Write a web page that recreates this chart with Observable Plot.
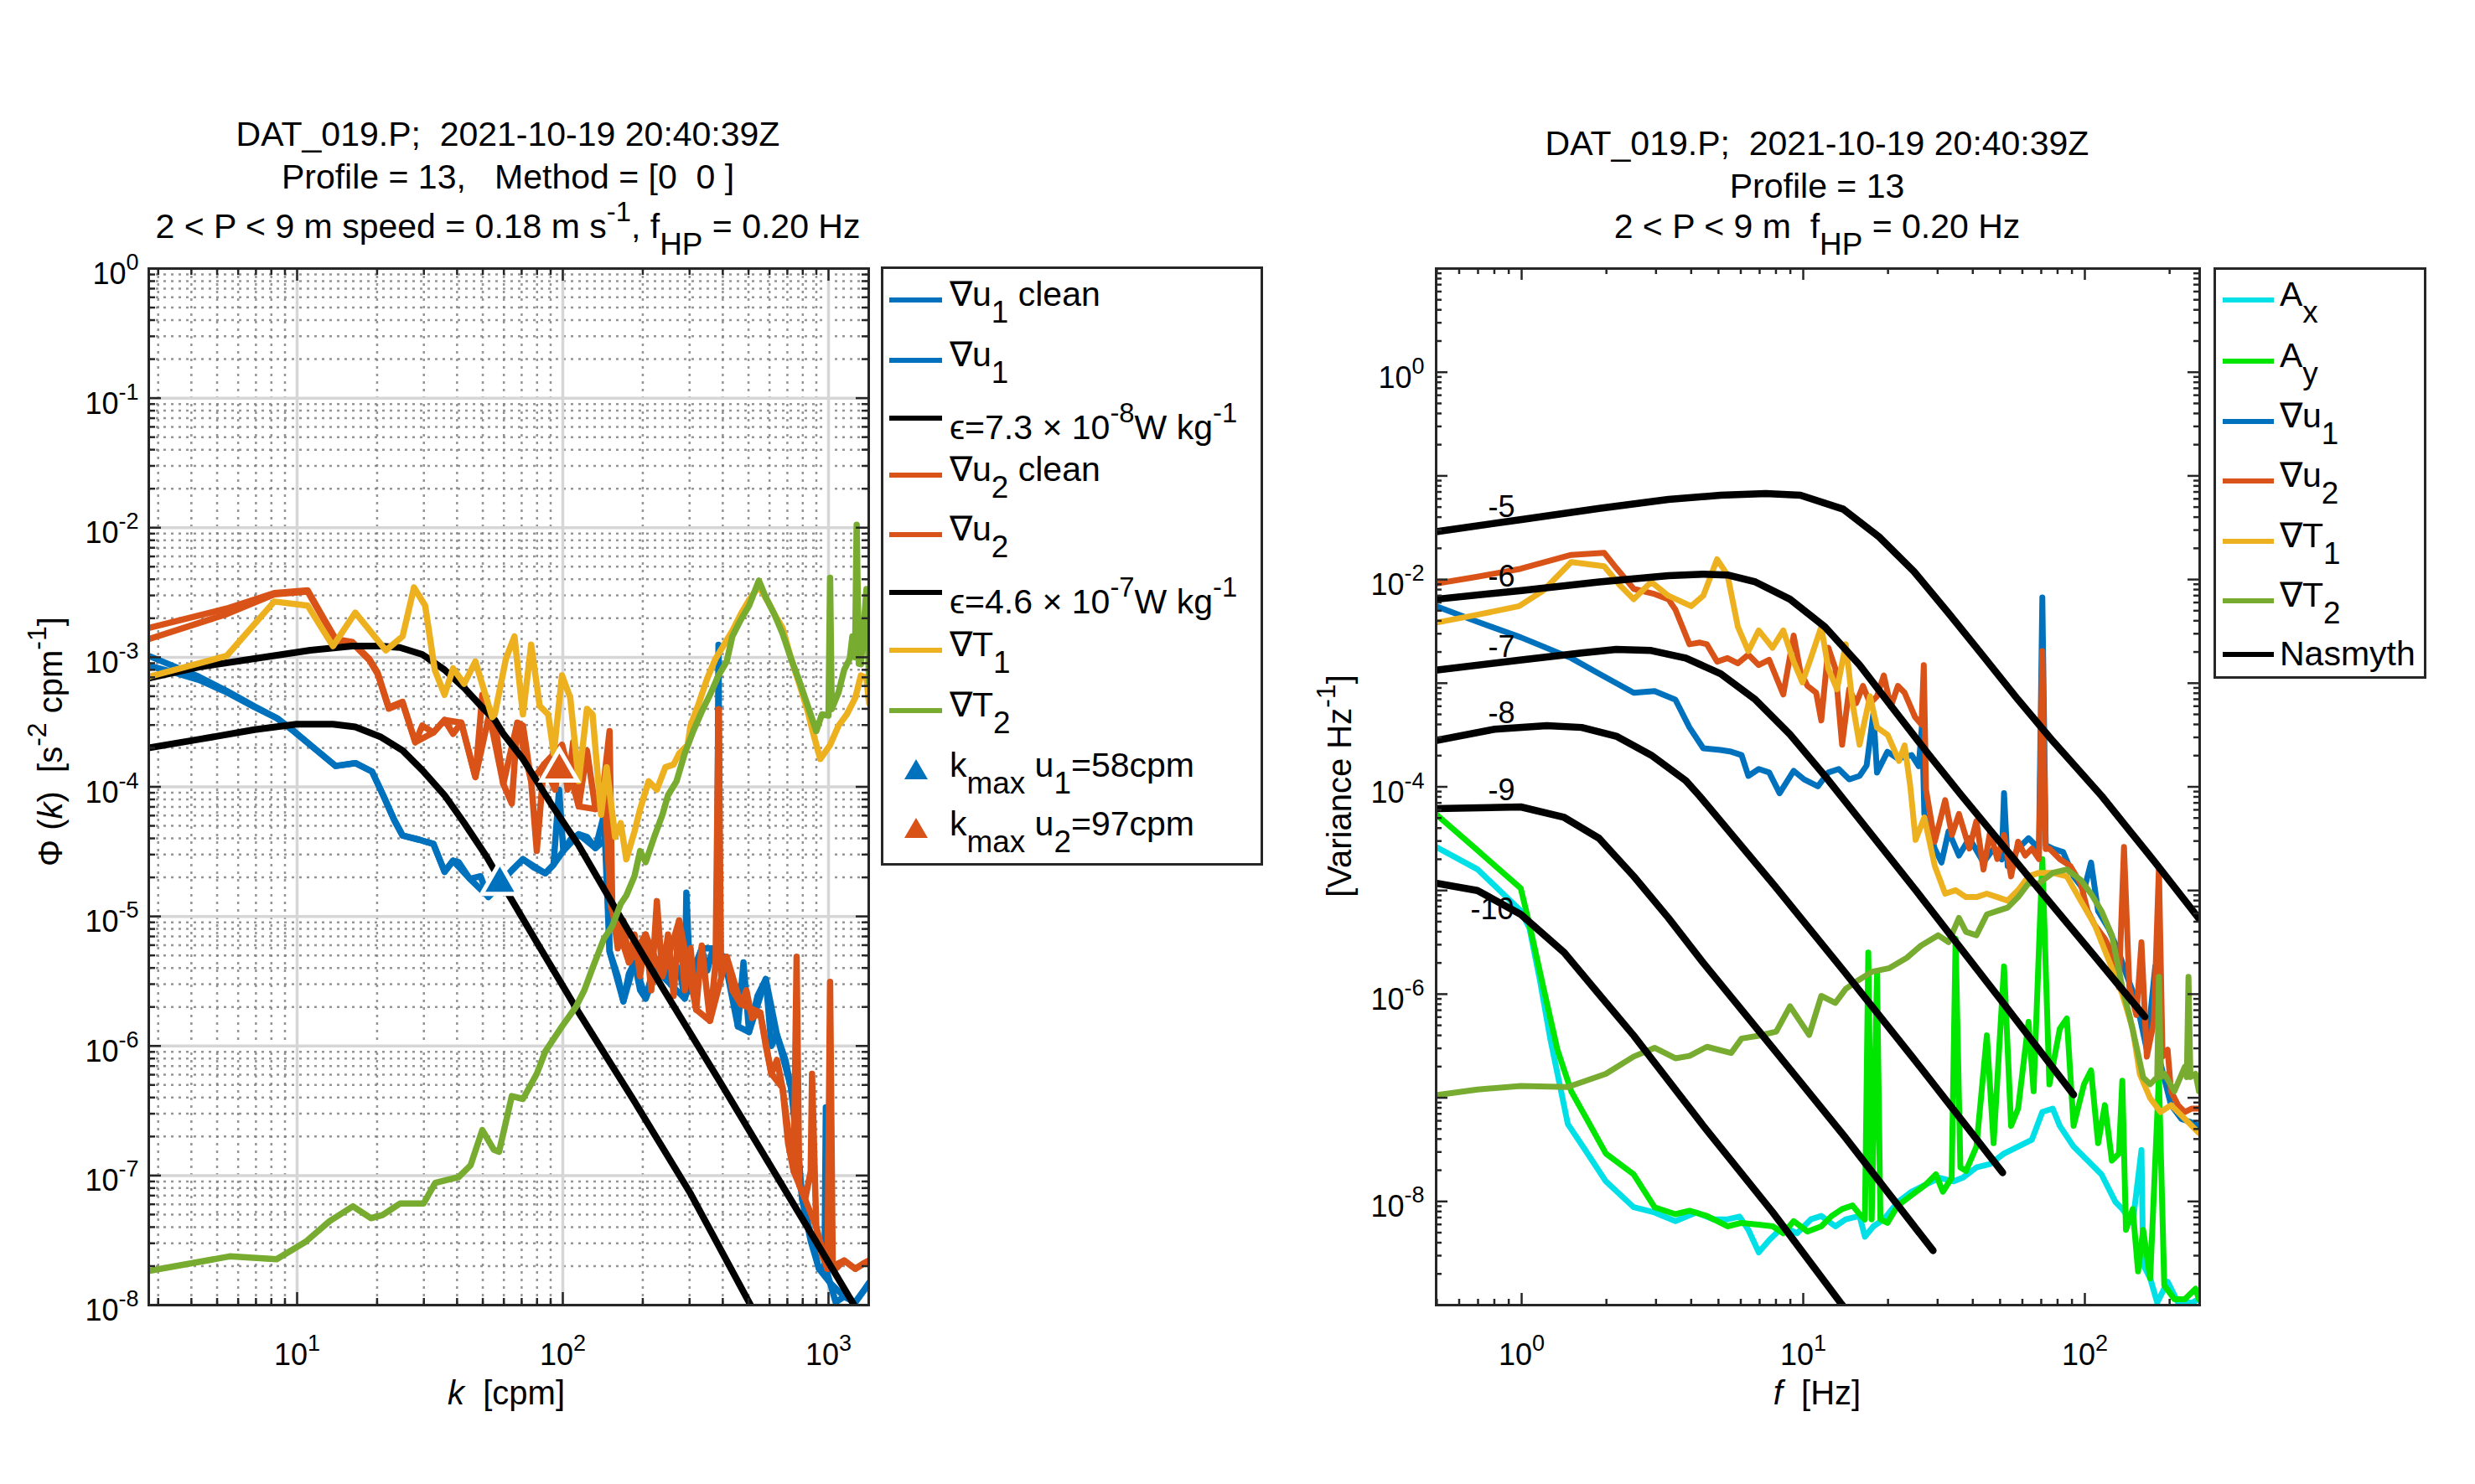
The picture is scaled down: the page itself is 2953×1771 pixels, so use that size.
<!DOCTYPE html>
<html><head><meta charset="utf-8">
<script src="https://cdn.jsdelivr.net/npm/d3@7"></script>
<script src="https://cdn.jsdelivr.net/npm/@observablehq/plot@0.6"></script>
<style>
body{margin:0;background:#fff;}
#fig{position:relative;width:2953px;height:1771px;background:#fff;font-family:"Liberation Sans",Arial,Helvetica,sans-serif;color:#000;overflow:hidden}
.t{position:absolute;white-space:pre;line-height:1;transform:translate(-50%,-50%)}
.title{font-size:41px}
.alab{font-size:40px}
.rot{transform:translate(-50%,-50%) rotate(-90deg)}
sub{font-size:0.9em;vertical-align:-0.55em;line-height:0}
sup{font-size:0.8em;vertical-align:0.6em;line-height:0}
.legend{position:absolute;border:3px solid #262626;background:#fff;box-sizing:border-box}
.lt{position:absolute;white-space:pre;line-height:1;font-size:41px;transform:translateY(-50%)}
.ls{position:absolute;height:6px}
</style></head>
<body><div id="fig"></div>
<script>
// ---------------- DATA (log10 pairs: [log10 x, log10 y]) ----------------
// Left panel: wavenumber spectra, k [cpm] vs Phi(k)
const L_u1 = [[0.441,-2.989],[0.525,-3.060],[0.630,-3.150],[0.735,-3.260],[0.840,-3.380],[0.924,-3.470],[0.987,-3.570],[1.050,-3.677],[1.145,-3.839],[1.219,-3.817],[1.282,-3.882],[1.324,-4.065],[1.366,-4.258],[1.397,-4.376],[1.461,-4.409],[1.513,-4.441],[1.555,-4.656],[1.587,-4.570],[1.608,-4.581],[1.650,-4.710],[1.690,-4.690],[1.720,-4.850],[1.744,-4.800],[1.763,-4.745],[1.808,-4.645],[1.850,-4.559],[1.892,-4.624],[1.934,-4.667],[1.965,-4.602],[1.986,-4.022],[2.002,-4.495],[2.028,-4.409],[2.060,-4.366],[2.091,-4.387],[2.123,-4.473],[2.155,-4.215],[2.176,-5.269],[2.207,-5.462],[2.228,-5.656],[2.249,-5.441],[2.270,-5.355],[2.291,-5.570],[2.312,-5.634],[2.333,-5.462],[2.354,-5.419],[2.386,-5.355],[2.407,-5.527],[2.438,-5.398],[2.459,-5.634],[2.465,-4.817],[2.481,-5.570],[2.502,-5.355],[2.523,-5.247],[2.544,-5.419],[2.565,-5.247],[2.580,-5.350],[2.586,-2.903],[2.592,-5.376],[2.607,-5.312],[2.638,-5.462],[2.659,-5.849],[2.680,-5.355],[2.701,-5.892],[2.733,-5.613],[2.764,-5.484],[2.785,-6.000],[2.806,-5.914],[2.838,-6.108],[2.859,-6.323],[2.880,-6.645],[2.901,-7.183],[2.933,-7.505],[2.964,-7.720],[2.985,-7.700],[2.990,-6.473],[2.995,-7.750],[3.006,-7.828],[3.027,-7.978],[3.059,-7.935],[3.101,-7.978],[3.132,-7.892],[3.153,-7.828]];
const L_u1clean = [[0.441,-3.065],[0.525,-3.110],[0.630,-3.175],[0.735,-3.270],[0.840,-3.385],[0.924,-3.470],[0.987,-3.570],[1.050,-3.677],[1.145,-3.839],[1.219,-3.817],[1.282,-3.882],[1.324,-4.065],[1.366,-4.258],[1.397,-4.376],[1.461,-4.409],[1.513,-4.441],[1.555,-4.656],[1.587,-4.570],[1.650,-4.710],[1.720,-4.850],[1.763,-4.745],[1.808,-4.645],[1.850,-4.559],[1.934,-4.667],[1.965,-4.602],[2.002,-4.495],[2.060,-4.366],[2.123,-4.473],[2.165,-4.400],[2.176,-5.269],[2.228,-5.656],[2.270,-5.355],[2.312,-5.634],[2.354,-5.419],[2.407,-5.527],[2.459,-5.634],[2.523,-5.247],[2.565,-5.247],[2.607,-5.312],[2.659,-5.849],[2.701,-5.892],[2.764,-5.484],[2.806,-5.914],[2.859,-6.323],[2.901,-7.183],[2.964,-7.720],[3.006,-7.828],[3.059,-7.935],[3.101,-7.978],[3.153,-7.828]];
const L_u2 = [[0.441,-2.774],[0.735,-2.624],[0.914,-2.505],[1.040,-2.484],[1.103,-2.710],[1.145,-2.860],[1.208,-2.882],[1.271,-3.011],[1.303,-3.118],[1.345,-3.387],[1.397,-3.344],[1.445,-3.656],[1.471,-3.527],[1.513,-3.581],[1.555,-3.484],[1.587,-3.591],[1.618,-3.505],[1.671,-3.925],[1.697,-3.290],[1.723,-3.441],[1.744,-3.484],[1.776,-3.978],[1.808,-4.129],[1.829,-3.505],[1.850,-3.527],[1.881,-3.957],[1.902,-4.495],[1.929,-3.828],[1.971,-4.022],[1.997,-3.677],[2.018,-4.022],[2.039,-3.656],[2.060,-4.151],[2.091,-3.720],[2.123,-4.172],[2.155,-3.957],[2.176,-3.570],[2.186,-4.925],[2.207,-5.247],[2.228,-5.032],[2.249,-5.355],[2.270,-5.140],[2.291,-5.462],[2.312,-5.140],[2.333,-5.570],[2.354,-4.882],[2.375,-5.462],[2.396,-5.140],[2.417,-5.613],[2.438,-5.032],[2.459,-5.570],[2.481,-5.247],[2.502,-5.720],[2.523,-5.226],[2.554,-5.806],[2.575,-5.355],[2.586,-3.400],[2.596,-5.462],[2.617,-5.312],[2.638,-5.570],[2.670,-5.677],[2.691,-5.570],[2.712,-5.785],[2.743,-5.742],[2.764,-6.000],[2.785,-6.215],[2.806,-6.108],[2.827,-6.323],[2.848,-6.753],[2.869,-6.968],[2.880,-5.312],[2.890,-7.075],[2.912,-7.183],[2.933,-6.968],[2.938,-6.215],[2.954,-7.398],[2.975,-7.613],[2.996,-7.720],[3.006,-5.505],[3.016,-7.720],[3.027,-7.720],[3.059,-7.656],[3.101,-7.720],[3.132,-7.677],[3.153,-7.656]];
const L_u2clean = [[0.441,-2.860],[0.735,-2.667],[0.914,-2.515],[1.040,-2.494],[1.103,-2.720],[1.145,-2.870],[1.208,-2.892],[1.271,-3.021],[1.303,-3.128],[1.345,-3.397],[1.397,-3.354],[1.445,-3.656],[1.513,-3.581],[1.555,-3.484],[1.618,-3.505],[1.671,-3.925],[1.723,-3.441],[1.776,-3.978],[1.829,-3.505],[1.881,-3.957],[1.929,-3.828],[1.997,-3.677],[2.060,-4.151],[2.123,-4.172],[2.155,-3.957],[2.181,-4.925],[2.249,-5.355],[2.312,-5.140],[2.375,-5.462],[2.438,-5.032],[2.502,-5.720],[2.554,-5.806],[2.617,-5.312],[2.670,-5.677],[2.743,-5.742],[2.785,-6.215],[2.827,-6.323],[2.869,-6.968],[2.912,-7.183],[2.954,-7.398],[2.996,-7.720],[3.059,-7.656],[3.101,-7.720],[3.153,-7.656]];
const L_T1 = [[0.441,-3.151],[0.735,-2.989],[0.914,-2.570],[1.040,-2.602],[1.135,-2.914],[1.219,-2.656],[1.334,-2.946],[1.397,-2.839],[1.440,-2.462],[1.482,-2.602],[1.518,-3.097],[1.555,-3.290],[1.587,-3.086],[1.629,-3.204],[1.671,-3.032],[1.734,-3.462],[1.744,-3.441],[1.786,-3.011],[1.818,-2.839],[1.850,-3.441],[1.881,-2.903],[1.913,-3.376],[1.945,-3.441],[1.966,-3.742],[1.997,-3.140],[2.028,-3.312],[2.060,-3.957],[2.091,-3.398],[2.112,-3.441],[2.144,-4.215],[2.165,-3.849],[2.197,-4.387],[2.218,-4.280],[2.239,-4.559],[2.270,-4.344],[2.291,-4.172],[2.323,-3.957],[2.354,-4.022],[2.386,-3.849],[2.417,-3.828],[2.438,-3.742],[2.470,-3.677],[2.481,-3.527],[2.512,-3.355],[2.544,-3.161],[2.575,-3.011],[2.607,-2.903],[2.638,-2.796],[2.670,-2.667],[2.701,-2.559],[2.738,-2.452],[2.775,-2.581],[2.796,-2.667],[2.827,-2.774],[2.859,-3.011],[2.890,-3.204],[2.922,-3.419],[2.943,-3.591],[2.969,-3.785],[3.006,-3.677],[3.038,-3.527],[3.069,-3.441],[3.101,-3.312],[3.122,-3.140],[3.143,-3.161],[3.153,-3.355]];
const L_T2 = [[0.440,-7.737],[0.746,-7.624],[0.923,-7.646],[1.033,-7.510],[1.122,-7.352],[1.210,-7.238],[1.277,-7.329],[1.321,-7.306],[1.387,-7.216],[1.476,-7.216],[1.520,-7.057],[1.608,-7.012],[1.653,-6.921],[1.697,-6.649],[1.740,-6.800],[1.760,-6.817],[1.808,-6.387],[1.850,-6.409],[1.902,-6.215],[1.934,-6.043],[1.997,-5.849],[2.049,-5.699],[2.081,-5.570],[2.112,-5.398],[2.155,-5.172],[2.186,-5.075],[2.218,-4.903],[2.239,-4.839],[2.270,-4.688],[2.291,-4.495],[2.312,-4.581],[2.344,-4.387],[2.375,-4.215],[2.396,-4.065],[2.428,-3.957],[2.459,-3.742],[2.491,-3.570],[2.523,-3.419],[2.554,-3.290],[2.586,-3.140],[2.617,-3.032],[2.638,-2.839],[2.670,-2.710],[2.701,-2.602],[2.738,-2.409],[2.764,-2.538],[2.796,-2.667],[2.827,-2.817],[2.859,-3.011],[2.890,-3.183],[2.922,-3.376],[2.954,-3.570],[2.975,-3.441],[3.000,-3.450],[3.006,-2.387],[3.012,-3.400],[3.038,-3.269],[3.059,-3.097],[3.080,-3.011],[3.090,-2.839],[3.100,-3.000],[3.106,-1.978],[3.114,-3.050],[3.122,-3.054],[3.143,-2.473],[3.153,-3.204]];
const L_nas1 = [[0.441,-3.699],[0.630,-3.634],[0.840,-3.559],[0.998,-3.516],[1.135,-3.516],[1.219,-3.538],[1.313,-3.613],[1.397,-3.720],[1.471,-3.871],[1.555,-4.065],[1.629,-4.280],[1.713,-4.538],[1.787,-4.800],[1.902,-5.200],[2.060,-5.742],[2.270,-6.430],[2.481,-7.140],[2.701,-7.978],[2.720,-8.050]];
const L_nas2 = [[0.441,-3.161],[0.630,-3.075],[0.840,-3.011],[1.050,-2.946],[1.208,-2.914],[1.313,-2.914],[1.387,-2.925],[1.471,-2.978],[1.555,-3.097],[1.629,-3.237],[1.702,-3.398],[1.744,-3.484],[1.776,-3.591],[1.850,-3.785],[1.955,-4.129],[2.060,-4.452],[2.218,-5.011],[2.375,-5.550],[2.586,-6.258],[2.796,-6.974],[3.006,-7.690],[3.090,-7.978],[3.110,-8.050]];
const L_kmax = [[1.763,-4.745],[1.987,-3.871]]; // u1 = 58 cpm, u2 = 97 cpm

// Right panel: frequency spectra, f [Hz] vs variance
const R_Ax = [[-0.305,-4.578],[-0.157,-4.795],[-0.003,-5.197],[0.028,-5.364],[0.065,-5.866],[0.102,-6.434],[0.164,-7.253],[0.226,-7.505],[0.299,-7.806],[0.398,-8.056],[0.472,-8.106],[0.546,-8.190],[0.620,-8.106],[0.682,-8.173],[0.731,-8.173],[0.774,-8.146],[0.805,-8.273],[0.842,-8.491],[0.879,-8.374],[0.929,-8.240],[0.978,-8.307],[1.027,-8.173],[1.064,-8.140],[1.114,-8.240],[1.151,-8.173],[1.200,-8.140],[1.219,-8.340],[1.249,-8.240],[1.286,-8.173],[1.336,-8.006],[1.385,-7.906],[1.434,-7.839],[1.484,-7.772],[1.534,-7.806],[1.566,-7.772],[1.615,-7.672],[1.664,-7.638],[1.713,-7.538],[1.763,-7.471],[1.812,-7.404],[1.849,-7.137],[1.886,-7.104],[1.911,-7.271],[1.960,-7.471],[2.010,-7.605],[2.059,-7.739],[2.109,-8.006],[2.133,-8.073],[2.170,-8.207],[2.201,-7.505],[2.207,-8.608],[2.232,-8.742],[2.257,-8.976],[2.294,-8.775],[2.331,-8.976],[2.380,-8.976],[2.405,-8.943]];
const R_Ay = [[-0.305,-4.261],[-0.157,-4.612],[-0.003,-4.980],[0.028,-5.331],[0.077,-5.933],[0.127,-6.535],[0.176,-6.936],[0.238,-7.237],[0.299,-7.538],[0.398,-7.739],[0.472,-8.056],[0.546,-8.123],[0.596,-8.090],[0.658,-8.140],[0.731,-8.240],[0.781,-8.207],[0.842,-8.224],[0.892,-8.240],[0.929,-8.307],[0.966,-8.190],[1.015,-8.290],[1.064,-8.240],[1.101,-8.140],[1.138,-8.073],[1.175,-8.039],[1.200,-8.123],[1.219,-8.173],[1.231,-5.599],[1.243,-8.173],[1.262,-5.800],[1.274,-8.173],[1.299,-8.207],[1.336,-8.039],[1.385,-7.939],[1.434,-7.839],[1.471,-7.738],[1.496,-7.906],[1.527,-7.772],[1.541,-5.466],[1.558,-7.672],[1.578,-7.705],[1.615,-7.471],[1.652,-6.398],[1.676,-7.438],[1.713,-5.733],[1.738,-7.271],[1.763,-7.104],[1.800,-6.268],[1.818,-6.937],[1.849,-4.697],[1.874,-6.870],[1.911,-6.335],[1.936,-6.235],[1.960,-7.271],[1.997,-6.870],[2.022,-6.736],[2.047,-7.438],[2.071,-7.071],[2.096,-7.605],[2.121,-7.538],[2.133,-6.836],[2.146,-8.274],[2.170,-8.073],[2.189,-8.675],[2.207,-8.274],[2.232,-8.742],[2.263,-6.800],[2.282,-8.809],[2.318,-8.943],[2.355,-8.943],[2.393,-8.842],[2.405,-8.943]];
const R_u1 = [[-0.305,-2.257],[-0.157,-2.407],[-0.003,-2.558],[0.176,-2.758],[0.275,-2.909],[0.398,-3.093],[0.472,-3.076],[0.546,-3.159],[0.596,-3.427],[0.645,-3.628],[0.706,-3.644],[0.744,-3.661],[0.781,-3.694],[0.805,-3.895],[0.842,-3.828],[0.879,-3.862],[0.916,-4.062],[0.966,-3.845],[1.003,-3.928],[1.052,-3.995],[1.089,-3.862],[1.126,-3.828],[1.163,-3.928],[1.200,-3.895],[1.225,-3.795],[1.249,-3.293],[1.262,-3.862],[1.299,-3.661],[1.336,-3.728],[1.385,-3.694],[1.410,-3.800],[1.422,-3.393],[1.430,-4.262],[1.467,-4.596],[1.491,-4.730],[1.516,-4.429],[1.553,-4.663],[1.590,-4.496],[1.640,-4.730],[1.676,-4.596],[1.705,-4.700],[1.713,-4.061],[1.726,-4.764],[1.763,-4.596],[1.800,-4.496],[1.837,-4.596],[1.849,-2.173],[1.861,-4.563],[1.886,-4.596],[1.923,-4.630],[1.960,-4.864],[1.997,-4.997],[2.022,-4.730],[2.047,-5.198],[2.084,-5.365],[2.121,-5.600],[2.146,-5.800],[2.183,-6.068],[2.220,-6.536],[2.250,-5.733],[2.269,-6.670],[2.306,-7.071],[2.343,-7.204],[2.380,-7.238],[2.405,-7.271]];
const R_u2 = [[-0.305,-2.039],[-0.157,-1.973],[-0.003,-1.896],[0.176,-1.762],[0.293,-1.742],[0.336,-1.889],[0.398,-2.090],[0.472,-2.140],[0.521,-2.190],[0.546,-2.290],[0.596,-2.625],[0.633,-2.608],[0.658,-2.625],[0.694,-2.792],[0.731,-2.758],[0.768,-2.808],[0.805,-2.725],[0.842,-2.825],[0.879,-2.775],[0.929,-3.109],[0.966,-2.541],[0.990,-2.892],[1.015,-3.026],[1.046,-3.093],[1.064,-3.360],[1.089,-2.658],[1.114,-2.859],[1.138,-3.594],[1.163,-3.059],[1.188,-3.193],[1.212,-3.026],[1.237,-3.193],[1.262,-3.126],[1.286,-2.925],[1.311,-3.226],[1.336,-3.026],[1.360,-3.093],[1.397,-3.327],[1.420,-3.400],[1.428,-2.825],[1.436,-4.027],[1.467,-4.529],[1.504,-4.128],[1.528,-4.463],[1.553,-4.262],[1.590,-4.596],[1.615,-4.329],[1.640,-4.798],[1.664,-4.429],[1.689,-4.697],[1.713,-4.463],[1.738,-4.864],[1.763,-4.529],[1.788,-4.663],[1.812,-4.596],[1.837,-4.697],[1.849,-2.691],[1.861,-4.600],[1.874,-4.596],[1.911,-4.697],[1.948,-4.763],[1.985,-4.931],[2.010,-5.198],[2.035,-5.332],[2.071,-5.466],[2.096,-5.600],[2.121,-5.934],[2.139,-4.580],[2.158,-5.934],[2.183,-6.202],[2.201,-5.500],[2.220,-6.603],[2.245,-6.268],[2.263,-4.780],[2.276,-6.603],[2.294,-6.536],[2.306,-6.937],[2.331,-7.071],[2.355,-7.138],[2.380,-7.104],[2.405,-7.104]];
const R_T1 = [[-0.305,-2.417],[-0.157,-2.340],[-0.009,-2.257],[0.077,-2.106],[0.176,-1.832],[0.293,-1.872],[0.349,-2.056],[0.398,-2.190],[0.460,-2.023],[0.521,-2.156],[0.602,-2.257],[0.645,-2.156],[0.694,-1.805],[0.731,-1.956],[0.768,-2.457],[0.805,-2.691],[0.842,-2.491],[0.891,-2.658],[0.929,-2.491],[0.966,-2.792],[0.997,-2.992],[1.027,-2.758],[1.064,-2.457],[1.089,-2.859],[1.120,-3.059],[1.151,-2.625],[1.175,-3.193],[1.200,-3.594],[1.237,-3.126],[1.262,-3.427],[1.300,-3.500],[1.340,-3.750],[1.360,-3.600],[1.380,-3.994],[1.399,-4.512],[1.430,-4.295],[1.467,-4.763],[1.504,-5.031],[1.541,-4.997],[1.578,-5.064],[1.615,-5.064],[1.652,-5.031],[1.689,-5.064],[1.726,-5.098],[1.763,-4.997],[1.800,-4.864],[1.837,-4.830],[1.886,-4.830],[1.936,-4.864],[1.985,-5.098],[2.035,-5.332],[2.084,-5.666],[2.133,-6.001],[2.170,-6.335],[2.195,-6.769],[2.232,-7.004],[2.269,-7.137],[2.306,-7.071],[2.355,-7.204],[2.405,-7.338]];
const R_T2 = [[-0.305,-6.976],[-0.157,-6.920],[-0.003,-6.886],[0.164,-6.896],[0.299,-6.769],[0.398,-6.602],[0.472,-6.518],[0.546,-6.619],[0.596,-6.596],[0.658,-6.508],[0.744,-6.568],[0.781,-6.428],[0.842,-6.401],[0.904,-6.361],[0.953,-6.117],[1.021,-6.394],[1.064,-6.017],[1.114,-6.084],[1.151,-5.950],[1.195,-5.867],[1.245,-5.783],[1.306,-5.749],[1.368,-5.649],[1.418,-5.532],[1.479,-5.432],[1.516,-5.499],[1.553,-5.265],[1.578,-5.399],[1.615,-5.432],[1.652,-5.231],[1.689,-5.198],[1.726,-5.165],[1.763,-5.064],[1.800,-4.931],[1.837,-4.931],[1.886,-4.830],[1.936,-4.797],[1.985,-4.897],[2.022,-5.031],[2.059,-5.198],[2.096,-5.432],[2.133,-5.934],[2.158,-6.202],[2.183,-6.502],[2.207,-6.803],[2.232,-6.869],[2.257,-6.800],[2.263,-5.834],[2.270,-6.800],[2.282,-6.769],[2.318,-6.936],[2.355,-6.702],[2.362,-6.800],[2.368,-5.834],[2.375,-6.800],[2.393,-6.769],[2.405,-6.936]];
// Nasmyth reference spectra, log10(epsilon) = -5 ... -10
const R_n5 = [[-0.303,-1.538],[0,-1.421],[0.275,-1.314],[0.521,-1.227],[0.706,-1.187],[0.867,-1.170],[0.990,-1.187],[1.142,-1.321],[1.269,-1.588],[1.393,-1.922],[1.516,-2.324],[1.640,-2.742],[1.763,-3.160],[1.887,-3.561],[2.060,-4.089],[2.250,-4.730],[2.408,-5.280]];
const R_n6 = [[-0.303,-2.190],[0,-2.106],[0.275,-2.023],[0.521,-1.963],[0.645,-1.949],[0.731,-1.956],[0.830,-2.023],[0.953,-2.190],[1.077,-2.457],[1.200,-2.825],[1.323,-3.260],[1.447,-3.694],[1.558,-4.070],[1.810,-4.900],[2.000,-5.520],[2.213,-6.218]];
const R_n7 = [[-0.305,-2.875],[0,-2.775],[0.213,-2.708],[0.336,-2.675],[0.460,-2.685],[0.583,-2.758],[0.707,-2.909],[0.830,-3.159],[0.953,-3.494],[1.077,-3.895],[1.146,-4.130],[1.400,-5.000],[1.700,-6.050],[1.960,-6.970]];
const R_n8 = [[-0.305,-3.554],[-0.096,-3.444],[0.089,-3.410],[0.213,-3.427],[0.336,-3.511],[0.460,-3.694],[0.583,-3.940],[0.632,-4.089],[0.900,-4.960],[1.146,-5.783],[1.400,-6.650],[1.708,-7.722]];
const R_n9 = [[-0.305,-4.211],[-0.003,-4.194],[0.151,-4.295],[0.274,-4.495],[0.398,-4.863],[0.521,-5.264],[0.645,-5.699],[0.892,-6.520],[1.146,-7.371],[1.461,-8.474]];
const R_n10 = [[-0.305,-4.930],[-0.157,-5.000],[-0.003,-5.231],[0.151,-5.599],[0.274,-5.999],[0.398,-6.400],[0.645,-7.270],[0.892,-8.106],[1.132,-8.976],[1.212,-9.250]];

// tick values
const L_xLabels = [10, 100, 1000];
const L_yLabels = [1, 1e-1, 1e-2, 1e-3, 1e-4, 1e-5, 1e-6, 1e-7, 1e-8];
const R_xLabels = [1, 10, 100];
const R_yLabels = [1, 1e-2, 1e-4, 1e-6, 1e-8];

// ---------------- helpers ----------------
const FONT = '"Liberation Sans", Arial, Helvetica, sans-serif';
const C = {blue:"#0072BD", red:"#D95319", yellow:"#EDB120", green:"#77AC30", cyan:"#00E0E6", lime:"#00E600", black:"#000000", axis:"#262626"};
const P = arr => arr.map(([a, b]) => ({x: 10 ** a, y: 10 ** b}));
const pow = v => `10^{${Math.round(Math.log10(v))}}`;
function logTicks(lo, hi) {
  const major = [], minor = [];
  for (let e = Math.floor(Math.log10(lo)); e <= Math.ceil(Math.log10(hi)); e++) {
    for (let m = 1; m < 10; m++) {
      const v = m * Math.pow(10, e);
      if (v < lo * 0.9999 || v > hi * 1.0001) continue;
      (m === 1 ? major : minor).push(v);
    }
  }
  return {major, minor};
}
function frameTicks(xt, yt, iw, ih, maj = 14, mn = 7) {
  const o = {stroke: C.axis, strokeWidth: 2.5};
  return [
    Plot.ruleX(xt.major, {...o, insetTop: ih - maj}),
    Plot.ruleX(xt.major, {...o, insetBottom: ih - maj}),
    Plot.ruleX(xt.minor, {...o, insetTop: ih - mn}),
    Plot.ruleX(xt.minor, {...o, insetBottom: ih - mn}),
    Plot.ruleY(yt.major, {...o, insetRight: iw - maj}),
    Plot.ruleY(yt.major, {...o, insetLeft: iw - maj}),
    Plot.ruleY(yt.minor, {...o, insetRight: iw - mn}),
    Plot.ruleY(yt.minor, {...o, insetLeft: iw - mn})
  ];
}
function texify(svg) {
  const ns = "http://www.w3.org/2000/svg";
  svg.querySelectorAll("text").forEach(t => {
    const s = t.textContent;
    const m = s.match(/^(.*)\^\{(.*)\}$/);
    if (!m) return;
    t.textContent = "";
    const a = document.createElementNS(ns, "tspan"); a.textContent = m[1];
    const b = document.createElementNS(ns, "tspan"); b.textContent = m[2];
    b.setAttribute("dy", "-17"); b.setAttribute("font-size", "27");
    t.append(a, b);
  });
}
function atLog(pairs, lx) {
  for (let i = 1; i < pairs.length; i++) {
    const [a0, b0] = pairs[i - 1], [a1, b1] = pairs[i];
    if (lx >= a0 && lx <= a1) return b0 + (b1 - b0) * (lx - a0) / (a1 - a0);
  }
  return pairs[0][1];
}
const H = 1771, TOP = 320, BOT = 1557;
const svgStyle = {background: "none", overflow: "visible", maxWidth: "none", fontFamily: FONT, fontSize: "36px", color: "#000"};
const fig = document.getElementById("fig");

// ---------------- LEFT PANEL ----------------
{
  const W = 1045, X0 = 177, X1 = 1036;
  const xd = [2.765, 1417], yd = [1e-8, 1];
  const xt = logTicks(xd[0], xd[1]), yt = logTicks(yd[0], yd[1]);
  const iw = X1 - X0, ih = BOT - TOP;
  const line = (d, stroke, w = 7.5) => Plot.line(P(d), {x: "x", y: "y", stroke, strokeWidth: w, clip: true, strokeLinejoin: "round"});
  const km = P(L_kmax);
  const svg = Plot.plot({
    width: W, height: H, marginLeft: X0, marginRight: W - X1, marginTop: TOP, marginBottom: H - BOT,
    style: svgStyle,
    x: {type: "log", domain: xd},
    y: {type: "log", domain: yd},
    marks: [
      Plot.ruleX(xt.minor, {stroke: "#7a7a7a", strokeOpacity: 0.8, strokeWidth: 2.5, strokeDasharray: "3,6"}),
      Plot.ruleY(yt.minor, {stroke: "#7a7a7a", strokeOpacity: 0.8, strokeWidth: 2.5, strokeDasharray: "3,6"}),
      Plot.ruleX(xt.major, {stroke: "#d6d6d6", strokeWidth: 3.5}),
      Plot.ruleY(yt.major, {stroke: "#d6d6d6", strokeWidth: 3.5}),
      line(L_u1clean, C.blue),
      line(L_u1, C.blue),
      line(L_nas1, C.black, 8),
      line(L_u2clean, C.red),
      line(L_u2, C.red),
      line(L_nas2, C.black, 8),
      line(L_T1, C.yellow),
      line(L_T2, C.green),
      Plot.dot([km[0]], {x: "x", y: "y", symbol: "triangle", r: 16, fill: C.blue, stroke: "white", strokeWidth: 5}),
      Plot.dot([km[1]], {x: "x", y: "y", symbol: "triangle", r: 16, fill: C.red, stroke: "white", strokeWidth: 5}),
      ...frameTicks(xt, yt, iw, ih, 15, 8),
      Plot.frame({stroke: C.axis, strokeWidth: 3}),
      Plot.axisX({ticks: L_xLabels, tickSize: 0, tickPadding: 46, tickFormat: pow, label: null, anchor: "bottom"}),
      Plot.axisY({ticks: L_yLabels, tickSize: 0, tickPadding: 12, tickFormat: pow, label: null, anchor: "left", dy: 7})
    ]
  });
  texify(svg);
  Object.assign(svg.style, {position: "absolute", left: "0px", top: "0px"});
  fig.appendChild(svg);
}

// ---------------- RIGHT PANEL ----------------
{
  const OX = 1500, W = 1140, X0 = 1713 - OX, X1 = 2624 - OX;
  const xd = [0.497, 255.7], yd = [1e-9, 10];
  const xt = logTicks(xd[0], xd[1]), yt = logTicks(yd[0], yd[1]);
  const iw = X1 - X0, ih = BOT - TOP;
  const line = (d, stroke, w = 7) => Plot.line(P(d), {x: "x", y: "y", stroke, strokeWidth: w, clip: true, strokeLinejoin: "round"});
  const nas = [R_n5, R_n6, R_n7, R_n8, R_n9, R_n10];
  const nasNames = ["-5", "-6", "-7", "-8", "-9", "-10"];
  const labAbove = nasNames.slice(0, 5).map((t, i) => ({x: 0.76, y: 10 ** atLog(nas[i], Math.log10(0.76)), t}));
  const labBelow = [{x: 0.658, y: 10 ** atLog(R_n10, Math.log10(0.72)), t: nasNames[5]}];
  const svg = Plot.plot({
    width: W, height: H, marginLeft: X0, marginRight: W - X1, marginTop: TOP, marginBottom: H - BOT,
    style: svgStyle,
    x: {type: "log", domain: xd},
    y: {type: "log", domain: yd},
    marks: [
      line(R_Ax, C.cyan),
      line(R_Ay, C.lime),
      line(R_u1, C.blue),
      line(R_u2, C.red),
      line(R_T1, C.yellow),
      line(R_T2, C.green),
      ...nas.map(d => line(d, C.black, 8.5)),
      Plot.text(labAbove, {x: "x", y: "y", text: "t", textAnchor: "start", dy: -20, fontSize: 36}),
      Plot.text(labBelow, {x: "x", y: "y", text: "t", textAnchor: "start", dy: 20, fontSize: 36}),
      ...frameTicks(xt, yt, iw, ih, 14, 7),
      Plot.frame({stroke: C.axis, strokeWidth: 3}),
      Plot.axisX({ticks: R_xLabels, tickSize: 0, tickPadding: 46, tickFormat: pow, label: null, anchor: "bottom"}),
      Plot.axisY({ticks: R_yLabels, tickSize: 0, tickPadding: 14, tickFormat: pow, label: null, anchor: "left", dy: 7})
    ]
  });
  texify(svg);
  Object.assign(svg.style, {position: "absolute", left: OX + "px", top: "0px"});
  fig.appendChild(svg);
}

// ---------------- TEXT: titles, axis labels ----------------
const texts = [
  {x: 606, y: 160, cls: "title", h: "DAT_019.P;  2021-10-19 20:40:39Z"},
  {x: 606, y: 211, cls: "title", h: "Profile = 13,   Method = [0  0 ]"},
  {x: 606, y: 271, cls: "title", h: "2 &lt; P &lt; 9 m speed = 0.18 m s<sup>-1</sup>, f<sub>HP</sub> = 0.20 Hz"},
  {x: 2168, y: 171, cls: "title", h: "DAT_019.P;  2021-10-19 20:40:39Z"},
  {x: 2168, y: 222, cls: "title", h: "Profile = 13"},
  {x: 2168, y: 271, cls: "title", h: "2 &lt; P &lt; 9 m  f<sub>HP</sub> = 0.20 Hz"},
  {x: 604, y: 1662, cls: "alab", h: "<i>k</i>  [cpm]"},
  {x: 2168, y: 1662, cls: "alab", h: "<i>f</i>  [Hz]"},
  {x: 60, y: 885, cls: "alab rot", h: "Φ (<i>k</i>)  [s<sup>-2</sup> cpm<sup>-1</sup>]"},
  {x: 1598, y: 938, cls: "alab rot", h: "[Variance Hz<sup>-1</sup>]"}
];
for (const t of texts) {
  const d = document.createElement("div");
  d.className = "t " + t.cls;
  d.style.left = t.x + "px"; d.style.top = t.y + "px";
  d.innerHTML = t.h;
  fig.appendChild(d);
}

// ---------------- LEGENDS ----------------
function legend(box, rows) {
  const b = document.createElement("div");
  b.className = "legend";
  Object.assign(b.style, {left: box.x + "px", top: box.y + "px", width: box.w + "px", height: box.h + "px"});
  for (const r of rows) {
    const yy = r.y - box.y - 3;
    if (r.kind === "tri") {
      const s = document.createElementNS("http://www.w3.org/2000/svg", "svg");
      s.setAttribute("width", 30); s.setAttribute("height", 26);
      s.innerHTML = `<path d="M15,1 L29,25 L1,25 Z" fill="${r.c}"/>`;
      Object.assign(s.style, {position: "absolute", left: (box.sx + box.sw / 2 - 15 - 3) + "px", top: (yy - 13) + "px"});
      b.appendChild(s);
    } else {
      const l = document.createElement("div");
      l.className = "ls";
      Object.assign(l.style, {left: (box.sx - 3) + "px", width: box.sw + "px", top: (yy - 3) + "px", background: r.c});
      b.appendChild(l);
    }
    const t = document.createElement("div");
    t.className = "lt";
    Object.assign(t.style, {left: (box.tx - 3) + "px", top: (yy + (r.dy || -6)) + "px"});
    t.innerHTML = r.h;
    b.appendChild(t);
  }
  fig.appendChild(b);
}
legend({x: 1051, y: 318, w: 456, h: 715, sx: 10, sw: 63, tx: 82}, [
  {y: 358, c: C.blue, h: "∇u<sub>1</sub> clean"},
  {y: 430, c: C.blue, h: "∇u<sub>1</sub>"},
  {y: 499, c: C.black, h: "ϵ=7.3 × 10<sup>-8</sup>W kg<sup>-1</sup>", dy: 11},
  {y: 567, c: C.red, h: "∇u<sub>2</sub> clean"},
  {y: 638, c: C.red, h: "∇u<sub>2</sub>"},
  {y: 707, c: C.black, h: "ϵ=4.6 × 10<sup>-7</sup>W kg<sup>-1</sup>", dy: 11},
  {y: 776, c: C.yellow, h: "∇T<sub>1</sub>"},
  {y: 848, c: C.green, h: "∇T<sub>2</sub>"},
  {y: 918, c: C.blue, kind: "tri", h: "k<sub>max</sub> u<sub>1</sub>=58cpm", dy: -4},
  {y: 988, c: C.red, kind: "tri", h: "k<sub>max</sub> u<sub>2</sub>=97cpm", dy: -4}
]);
legend({x: 2641, y: 319, w: 254, h: 491, sx: 11, sw: 61, tx: 79}, [
  {y: 358, c: C.cyan, h: "A<sub>x</sub>"},
  {y: 431, c: C.lime, h: "A<sub>y</sub>"},
  {y: 503, c: C.blue, h: "∇u<sub>1</sub>"},
  {y: 574, c: C.red, h: "∇u<sub>2</sub>"},
  {y: 646, c: C.yellow, h: "∇T<sub>1</sub>"},
  {y: 717, c: C.green, h: "∇T<sub>2</sub>"},
  {y: 781, c: C.black, h: "Nasmyth", dy: -1}
]);
</script>
</body></html>
